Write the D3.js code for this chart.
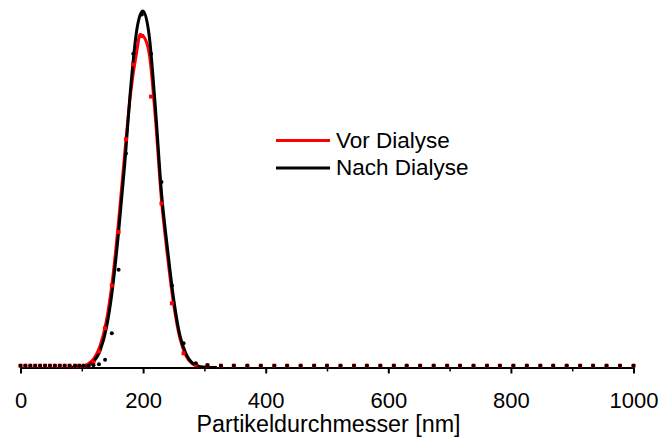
<!DOCTYPE html>
<html>
<head>
<meta charset="utf-8">
<script src="https://cdn.jsdelivr.net/npm/d3@7"></script>
<style>
  body { margin: 0; background: #fff; }
  text { font-family: "Liberation Sans", Arial, Helvetica, sans-serif; fill: #000; }
</style>
</head>
<body>
<svg id="chart" width="658" height="441"></svg>
<script>
// Axis ticks and labels
const xTicks = [0, 200, 400, 600, 800, 1000];
const xMinorTicks = [100, 300, 500, 700, 900];
const xLabel = "Partikeldurchmesser [nm]";
const seriesNames = ["Vor Dialyse", "Nach Dialyse"];
const seriesColors = ["#ff0000", "#000000"];

// Fitted size distributions: diameter (nm) and intensity (% of max)
const fitX    = [80, 100, 110, 120, 130, 140, 150, 160, 170, 180, 190, 195, 200, 210, 220, 230, 240, 250, 260, 270, 280, 290, 300, 320];
const fitVor  = [0, 0.3, 1.0, 2.6, 6.2, 13, 24.5, 41, 60, 77.5, 89, 93.4, 93, 88, 70, 47, 31, 17.5, 8.2, 3.3, 1.1, 0.4, 0.1, 0];
const fitNach = [0, 0.2, 0.6, 1.8, 4.8, 11, 22, 38, 57, 79, 95, 98.8, 100, 93, 73, 49, 33, 19, 9, 3.8, 1.3, 0.4, 0.1, 0];

// Measured points: diameter (nm) and intensity
const measX = [0, 8, 16, 24, 32, 40, 48, 56, 64, 72, 80, 89, 96, 103,
  111, 119, 128, 138, 149, 160, 172, 184, 198, 213, 230, 247, 266, 286,
  305, 327, 348, 370, 392, 414, 435, 457, 479, 500, 522, 544, 565, 587, 609, 630, 652,
  674, 696, 717, 739, 761, 782, 804, 826, 848, 869, 891, 913, 934, 956, 978, 1000];
const measVor = [0.5, 0.5, 0.5, 0.5, 0.5, 0.5, 0.5, 0.5, 0.5, 0.5, 0.5, 0.5, 0.5, 0.5,
  0.6, 1.5, 4.5, 11, 23, 38, 64, 85, 93, 76, 46, 18, 4, 0.8,
  0.6, 0.5, 0.5, 0.5, 0.5, 0.5, 0.5, 0.5, 0.5, 0.5, 0.5, 0.5, 0.5, 0.5, 0.5, 0.5, 0.5,
  0.5, 0.5, 0.5, 0.5, 0.5, 0.5, 0.5, 0.5, 0.5, 0.5, 0.5, 0.5, 0.5, 0.5, 0.5, 0.5];
const measNach = [0.5, 0.5, 0.5, 0.5, 0.5, 0.5, 0.5, 0.5, 0.5, 0.5, 0.5, 0.5, 0.5, 0.5,
  0.5, 0.6, 0.9, 2.2, 9.6, 27.4, 60, 88, 99, 88, 52, 23, 6.8, 1.2,
  0.6, 0.5, 0.5, 0.5, 0.5, 0.5, 0.5, 0.5, 0.5, 0.5, 0.5, 0.5, 0.5, 0.5, 0.5, 0.5, 0.5,
  0.5, 0.5, 0.5, 0.5, 0.5, 0.5, 0.5, 0.5, 0.5, 0.5, 0.5, 0.5, 0.5, 0.5, 0.5, 0.5];

const svg = d3.select("#chart");
svg.append("rect").attr("width", 658).attr("height", 441).attr("fill", "#fff");

const x = d3.scaleLinear().domain([0, 1000]).range([20.5, 633.5]);
const y = d3.scaleLinear().domain([0, 100]).range([367.5, 11]);

// Bottom axis: major ticks with labels, minor ticks without
const axisG = svg.append("g").attr("transform", `translate(0,${y(0)})`);
axisG.call(d3.axisBottom(x).tickValues(xTicks).tickSize(6).tickSizeOuter(0).tickFormat(d3.format("d")));
axisG.select(".domain").attr("stroke", "#000").attr("stroke-width", 2);
axisG.selectAll(".tick line").attr("stroke", "#000").attr("stroke-width", 2);
axisG.selectAll(".tick text")
  .attr("y", 40).attr("dy", null)
  .style("font-family", '"Liberation Sans", Arial, sans-serif')
  .style("font-size", "22px").attr("fill", "#000");

const minorG = svg.append("g").attr("transform", `translate(0,${y(0)})`);
minorG.call(d3.axisBottom(x).tickValues(xMinorTicks).tickSize(4).tickSizeOuter(0).tickFormat(""));
minorG.select(".domain").remove();
minorG.selectAll(".tick line").attr("stroke", "#000").attr("stroke-width", 1.5);

svg.append("text")
  .attr("x", (x(0) + x(1000)) / 2 + 1.5).attr("y", 432)
  .attr("text-anchor", "middle")
  .style("font-size", "23.3px")
  .text(xLabel);

// Fit curves
const line = d3.line().x(d => x(d[0])).y(d => y(d[1])).curve(d3.curveMonotoneX);
const fits = [fitVor, fitNach];
fits.forEach((vals, i) => {
  svg.append("path")
    .datum(fitX.map((v, j) => [v, vals[j]]))
    .attr("d", line)
    .attr("fill", "none")
    .attr("stroke", seriesColors[i])
    .attr("stroke-width", 3)
    .attr("stroke-linejoin", "round");
});

// Measured points: red squares and black circles
svg.append("g").selectAll("rect")
  .data(measX.map((v, j) => [v, measVor[j]]))
  .join("rect")
  .attr("x", d => x(d[0]) - 2).attr("y", d => y(d[1]) - 2)
  .attr("width", 4).attr("height", 4)
  .attr("fill", seriesColors[0]);

svg.append("g").selectAll("circle")
  .data(measX.map((v, j) => [v, measNach[j]]))
  .join("circle")
  .attr("cx", d => x(d[0])).attr("cy", d => y(d[1]))
  .attr("r", 2)
  .attr("fill", seriesColors[1]);

// Legend
const legend = svg.append("g");
const legendY = [140.5, 168];
seriesNames.forEach((name, i) => {
  legend.append("line")
    .attr("x1", 276).attr("x2", 330)
    .attr("y1", legendY[i]).attr("y2", legendY[i])
    .attr("stroke", seriesColors[i]).attr("stroke-width", 3);
  legend.append("text")
    .attr("x", 336).attr("y", legendY[i] + 7)
    .style("font-size", "22.5px")
    .text(name);
});
</script>
</body>
</html>
